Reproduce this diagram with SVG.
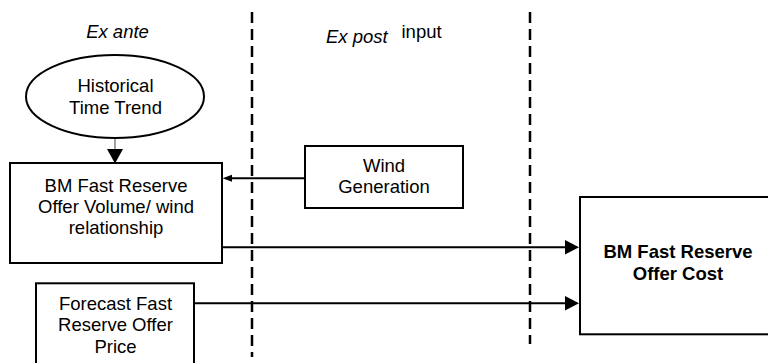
<svg xmlns="http://www.w3.org/2000/svg" width="768" height="363" viewBox="0 0 768 363">
<style>
  .box { fill: #fff; stroke: #000; stroke-width: 2; }
  .t { font-family: "Liberation Sans", Arial, sans-serif; font-size: 18.5px; fill: #000; text-anchor: middle; }
  .tb { font-weight: bold; }
  .it { font-style: italic; }
  .div { stroke: #000; stroke-width: 2.5; stroke-dasharray: 11 6; fill: none; }
  .ln { stroke: #000; stroke-width: 2; fill: none; }
  .head { fill: #000; stroke: none; }
</style>
<rect width="768" height="363" fill="#fff"/>
<g id="dividers">
  <line class="div" x1="252" y1="12" x2="252" y2="357"/>
  <line class="div" x1="530" y1="12" x2="530" y2="344"/>
</g>
<g id="labels">
  <text class="t it" x="117.5" y="37.5">Ex ante</text>
  <text class="t it" x="326" y="43.3" text-anchor="start" style="text-anchor:start">Ex post</text>
  <text class="t" x="401.5" y="37.5" style="text-anchor:start">input</text>
</g>
<g id="connectors">
  <line x1="115" y1="138" x2="115" y2="149" stroke="#444" stroke-width="1"/>
  <polygon class="head" points="107,149 123,149 115,163.5"/>
  <line class="ln" x1="305" y1="178.3" x2="231" y2="178.3"/>
  <polygon class="head" points="222.5,178.3 232,174.8 232,181.8"/>
  <line class="ln" x1="222" y1="247.3" x2="566" y2="247.3"/>
  <polygon class="head" points="579,247.3 565,240 565,254.6"/>
  <line class="ln" x1="194" y1="303.3" x2="566" y2="303.3"/>
  <polygon class="head" points="579,303.3 565,296 565,310.6"/>
</g>
<g id="node-trend">
  <ellipse class="box" cx="115" cy="96.5" rx="89" ry="41.5"/>
  <text class="t" x="115.5" y="91.5">Historical</text>
  <text class="t" x="115.5" y="113.5">Time Trend</text>
</g>
<g id="node-volume">
  <rect class="box" x="10" y="163" width="212" height="100"/>
  <text class="t" x="116" y="191.5">BM Fast Reserve</text>
  <text class="t" x="116" y="212.5">Offer Volume/ wind</text>
  <text class="t" x="116" y="233.5">relationship</text>
</g>
<g id="node-wind">
  <rect class="box" x="305" y="146" width="158" height="62"/>
  <text class="t" x="384" y="171.5">Wind</text>
  <text class="t" x="384" y="193">Generation</text>
</g>
<g id="node-price">
  <rect class="box" x="36" y="283.3" width="158" height="100"/>
  <text class="t" x="115.5" y="310">Forecast Fast</text>
  <text class="t" x="115.5" y="331">Reserve Offer</text>
  <text class="t" x="115.5" y="352.5">Price</text>
</g>
<g id="node-cost">
  <rect class="box" x="580" y="197" width="192" height="137.3"/>
  <text class="t tb" x="678" y="258.3">BM Fast Reserve</text>
  <text class="t tb" x="678" y="280">Offer Cost</text>
</g>
</svg>
